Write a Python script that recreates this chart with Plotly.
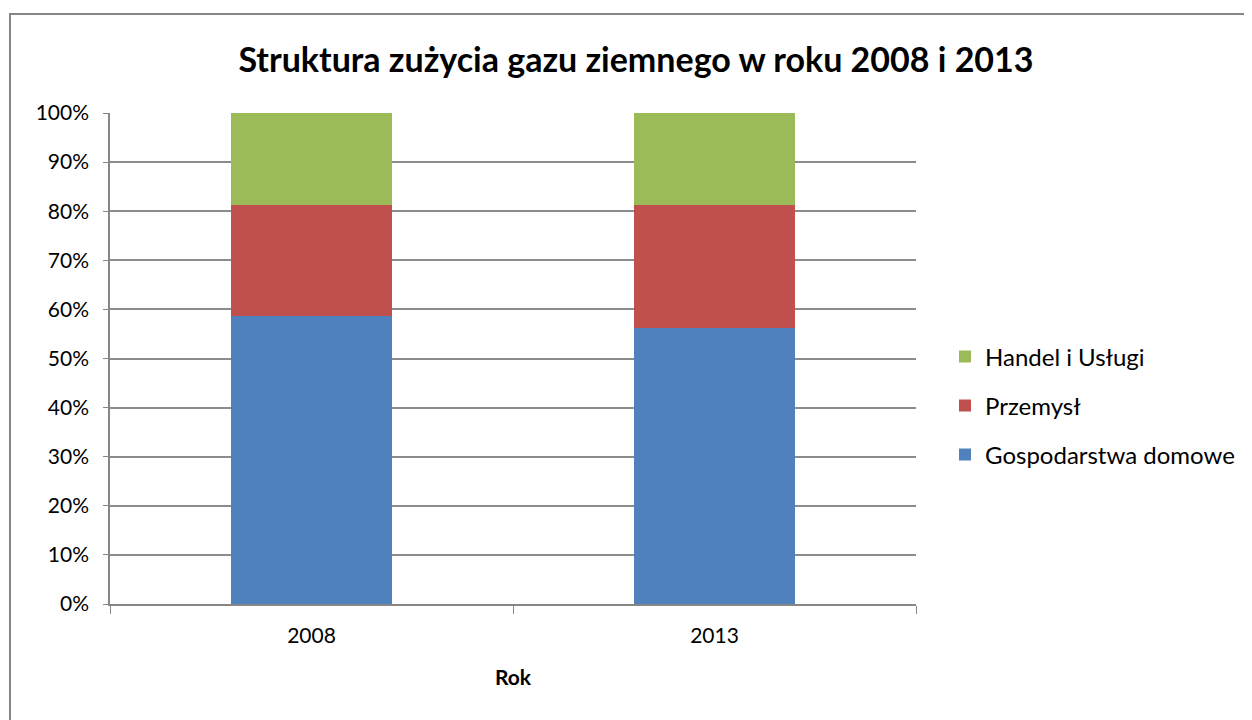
import plotly.graph_objects as go

years = ["2008", "2013"]
gospodarstwa = [58.6, 56.2]
przemysl = [22.7, 25.1]
handel = [18.7, 18.7]

series = [
    ("Gospodarstwa domowe", gospodarstwa, "#4F81BD", "legend3"),
    ("Przemysł", przemysl, "#C0504D", "legend2"),
    ("Handel i Usługi", handel, "#9BBB59", "legend"),
]

FONT = "Lato"
OFF = 8  # default page body margin
fig = go.Figure()
for name, vals, color, lg in series:
    fig.add_trace(go.Bar(x=years, y=vals, name=name, marker=dict(color=color, line=dict(width=0)),
                         legend=lg, showlegend=True))

leg_common = dict(x=(945 - 110) / 806, xanchor="left", yanchor="middle", bgcolor="rgba(0,0,0,0)",
                  font=dict(family=FONT, size=24, color="#000000"))
fig.update_layout(
    width=1252 - OFF, height=720 - OFF,
    showlegend=True,
    barmode="stack", bargap=0.6,
    paper_bgcolor="white", plot_bgcolor="white",
    margin=dict(l=110 - OFF, r=336, t=113 - OFF, b=116),
    title=dict(text="<b>Struktura zużycia gazu ziemnego w roku 2008 i 2013</b>",
               x=(636 - OFF) / (1252 - OFF), xanchor="center",
               y=1 - (60 - OFF) / (720 - OFF), yanchor="middle",
               font=dict(family=FONT, size=34, color="#000000")),
    legend=dict(y=(604 - 357) / 491, **leg_common),
    legend2=dict(y=(604 - 406) / 491, **leg_common),
    legend3=dict(y=(604 - 455) / 491, **leg_common),
    xaxis=dict(title=dict(text="<b>Rok</b>", font=dict(family=FONT, size=21, color="#000000"), standoff=24),
               tickfont=dict(family=FONT, size=21, color="#000000"), ticklabelstandoff=12,
               showline=True, linecolor="#868686", linewidth=1.5,
               ticks="outside", tickson="boundaries", ticklen=8, tickcolor="#868686",
               showgrid=False),
    yaxis=dict(range=[0, 100], dtick=10, ticksuffix="%",
               tickfont=dict(family=FONT, size=21, color="#000000"), ticklabelstandoff=10,
               showline=True, linecolor="#868686", linewidth=1.5,
               ticks="outside", ticklen=5, tickcolor="#868686",
               showgrid=True, gridcolor="#8C8C8C", gridwidth=1.5, zeroline=False),
    shapes=[dict(type="rect", xref="paper", yref="paper",
                 x0=(10 - 110) / 806, x1=1.6, y0=-0.5, y1=1 + 99 / 491,
                 line=dict(color="#868686", width=2), fillcolor="rgba(0,0,0,0)", layer="below")],
)

fig.write_html("out.html")
